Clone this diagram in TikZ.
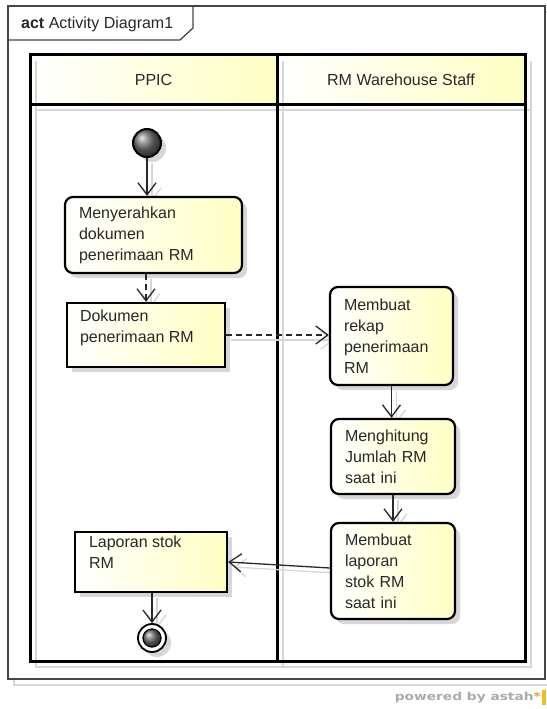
\documentclass[tikz,border=0pt]{standalone}
\usepackage{fontspec}
\usepackage{graphicx}
\setmainfont{Liberation Sans}
\newfontfamily\badgefont{DejaVu Sans}
\usetikzlibrary{arrows.meta,shadows,calc}

\definecolor{framegray}{RGB}{70,70,70}
\definecolor{shadowgray}{RGB}{215,215,215}
\definecolor{paleyellow}{RGB}{255,255,196}
\definecolor{inkgray}{RGB}{40,40,40}
\definecolor{badgegray}{RGB}{170,170,170}
\definecolor{badgeorange}{RGB}{240,160,40}

\pgfdeclarelayer{bg}
\pgfsetlayers{bg,main}

\tikzset{
  umltext/.style={font=\fontsize{16}{21}\selectfont, text=inkgray},
  nodeshadow/.style={drop shadow={shadow xshift=5pt, shadow yshift=-5pt, fill=shadowgray, opacity=1}},
  action/.style={umltext, draw=black, line width=2.2pt, rounded corners=8pt,
    left color=white, right color=paleyellow, nodeshadow,
    align=left, inner xsep=14pt, inner ysep=4pt},
  objbox/.style={draw=black, line width=2.4pt, left color=white, right color=paleyellow,
    nodeshadow, inner sep=0pt},
  objtext/.style={umltext, align=left, inner sep=0pt},
  startnode/.style={circle, draw=black, line width=2pt, minimum size=28pt, inner sep=0pt,
    ball color=black!55, nodeshadow},
  endnode/.style={circle, draw=black, line width=1.8pt, minimum size=28pt, inner sep=0pt,
    fill=white, nodeshadow},
  flow/.style={draw=inkgray, line width=1.3pt, -{Straight Barb[length=12pt, width=18pt, line width=1.3pt]}},
  objflow/.style={flow, dash pattern=on 6pt off 4pt},
  flowshadow/.style={draw=shadowgray, line width=1.3pt, -{Straight Barb[length=12pt, width=18pt, line width=1.3pt]}},
  lanehead/.style={left color=white, right color=paleyellow},
  laneline/.style={draw=black, line width=3pt},
  laneshadow/.style={draw=shadowgray, line width=2.5pt},
}

\begin{document}
\begin{tikzpicture}[x=1pt, y=-1pt]
\useasboundingbox (0,0) rectangle (546,709);

% ---- activity nodes ----
\node[startnode] (s) at (147,143) {};
\node[action, text width=149pt, minimum height=76pt] (a1) at (153.5,235)
  {Menyerahkan\\dokumen\\penerimaan RM};
\node[objbox, minimum width=158pt, minimum height=64pt] (o1) at (146,335) {};
\node[objtext, anchor=north west] (o1t) at ([shift={(14,8)}]o1.north west)
  {Dokumen\\penerimaan RM};
\node[action, text width=95pt, minimum height=98pt] (a2) at (391.5,336)
  {Membuat\\rekap\\penerimaan\\RM};
\node[action, text width=96pt, minimum height=75pt] (a3) at (393,456.5)
  {Menghitung\\Jumlah RM\\saat ini};
\node[action, text width=96pt, minimum height=96pt] (a4) at (393,571)
  {Membuat\\laporan\\stok RM\\saat ini};
\node[objbox, minimum width=152pt, minimum height=60pt] (o2) at (151,562) {};
\node[objtext, anchor=north west] (o2t) at ([shift={(15,5)}]o2.north west)
  {Laporan stok\\RM};
\node[endnode] (f) at (152,638) {};
\shade[ball color=black!55] (f.center) circle (9pt);
\draw[line width=1.3pt] (f.center) circle (9pt);

% connector end points
\coordinate (c1) at (s.south |- a1.north);
\coordinate (c2) at (a1.south -| o1.north);
\coordinate (c3) at (o1.east -| a2.west);
\coordinate (c4) at (a2.south |- a3.north);
\coordinate (c5) at (a3.south |- a4.north);
\coordinate (c6) at ([yshift=3pt]a4.west);
\coordinate (c7) at (o2.south -| f.north);

\begin{pgfonlayer}{bg}
  \fill[white] (0,0) rectangle (546,709);
  % diagram frame and its shadow
  \draw[shadowgray, line width=1.3pt] (14,12) rectangle (551,685);
  \draw[framegray, line width=1.3pt, fill=white] (8,6) rectangle (545,679);
  \draw[framegray, line width=1.3pt] (8,40) -- (180,40) -- (193,28) -- (193,6);
  % swimlane headers
  \shade[lanehead] (30,55) rectangle (277,104);
  \shade[lanehead] (277,55) rectangle (525,104);
  % swimlane shadows
  \draw[laneshadow] (36,61) -- (36,667) -- (531,667) -- (531,61);
  \draw[laneshadow] (283,61) -- (283,667);
  \draw[laneshadow] (36,110) -- (531,110);
  % swimlane borders
  \draw[laneline] (30,55) rectangle (525,661);
  \draw[laneline] (277,55) -- (277,661);
  \draw[laneline] (30,104) -- (525,104);
  % connector shadows
  \draw[flowshadow] ([shift={(5,5)}]s.south) -- ([shift={(5,5)}]c1);
  \draw[flowshadow] ([shift={(5,5)}]c2) -- ([shift={(5,5)}]o1.north);
  \draw[flowshadow] ([shift={(5,5)}]o1.east) -- ([shift={(5,5)}]c3);
  \draw[flowshadow] ([shift={(5,5)}]a2.south) -- ([shift={(5,5)}]c4);
  \draw[flowshadow] ([shift={(5,5)}]a3.south) -- ([shift={(5,5)}]c5);
  \draw[flowshadow] ([shift={(5,5)}]c6) -- ([shift={(5,5)}]o2.east);
  \draw[flowshadow] ([shift={(5,5)}]c7) -- ([shift={(5,5)}]f.north);
\end{pgfonlayer}

% frame title
\node[anchor=west, font=\fontsize{16}{16}\selectfont, text=inkgray, inner sep=0pt] (title)
  at (21,24) {\textbf{act} Activity Diagram1};
% lane titles
\node[umltext] (lane1) at (153.5,80) {PPIC};
\node[umltext] (lane2) at (401,80) {RM Warehouse Staff};

% connectors
\draw[flow] (s.south) -- (c1);
\draw[objflow] (c2) -- (o1.north);
\draw[objflow] (o1.east) -- (c3);
\draw[flow] (a2.south) -- (c4);
\draw[flow] (a3.south) -- (c5);
\draw[flow] (c6) -- (o2.east);
\draw[flow] (c7) -- (f.north);

% footer badge
\node[anchor=east, inner sep=0pt, text=badgegray] (badge) at (541,697)
  {\scalebox{1.25}[1]{\badgefont\bfseries\fontsize{11}{11}\selectfont powered by astah\textcolor{badgeorange}{*}}};
\fill[badgeorange!70!yellow] (542,690) rectangle (546,705);
\end{tikzpicture}
\end{document}
